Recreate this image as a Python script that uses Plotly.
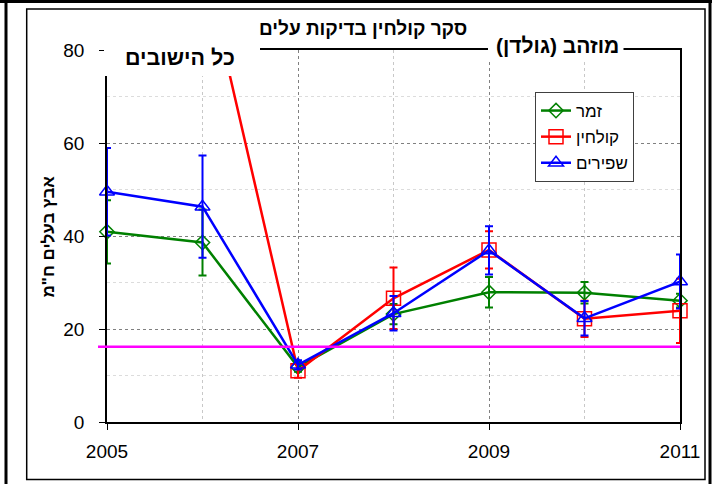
import plotly.graph_objects as go

# ---------------- data ----------------
years = [2005, 2006, 2007, 2008, 2009, 2010, 2011]

series_names = ["זמר", "קולחין", "שפירים"]

zamar = [40.9, 38.6, 11.8, 23.2, 27.9, 27.8, 26.1]
zamar_err = [6.8, 7.1, 1.0, 2.2, 3.3, 2.3, 1.5]

kolhin = [None, 100.0, 11.0, 26.6, 37.0, 22.2, 23.9]
kolhin_err = [None, None, 1.5, 6.6, 4.0, 3.9, 6.9]

shapirim = [49.5, 46.3, 12.3, 23.4, 36.9, 22.3, 30.2]
shapirim_err = [9.4, 11.0, 1.0, 3.7, 5.2, 3.7, 5.8]

threshold = 16.2

x_ticks = [2005, 2007, 2009, 2011]
y_ticks = [0, 20, 40, 60, 80]

title_main = "סקר קולחין בדיקות עלים"
title_left = "כל הישובים"
title_right = "מוזהב (גולדן)"
y_title = 'אבץ בעלים ח"מ'

# ---------------- layout geometry ----------------
W, H = 712, 484
L, R, T, B = 107, 32, 50, 62
PW, PH = W - L - R, H - T - B


def px(xpix):
    return (xpix - L) / PW


def py(ypix):
    return (H - B - ypix) / PH


FONT = "Liberation Sans, Arial, DejaVu Sans, sans-serif"

colors = ["#008000", "#FF0000", "#0000FF"]
symbols = ["diamond-open", "square-open", "triangle-up-open"]
sizes = [11, 14, 13]
vals = [zamar, kolhin, shapirim]
errs = [zamar_err, kolhin_err, shapirim_err]

fig = go.Figure()
for name, c, s, sz, v, e in zip(series_names, colors, symbols, sizes, vals, errs):
    fig.add_trace(go.Scatter(
        x=years, y=v, name=name, mode="lines+markers",
        line=dict(color=c, width=2.5),
        marker=dict(symbol=s, size=sz, color=c, line=dict(color=c, width=1.5)),
        error_y=dict(type="data", array=e, visible=True, color=c,
                     thickness=2, width=4),
        cliponaxis=False,
        legendgroup=name,
    ))

shapes = []
# threshold line
shapes.append(dict(type="line", xref="paper", yref="y", x0=px(98), x1=1,
                   y0=threshold, y1=threshold,
                   line=dict(color="#FF00FF", width=2.5), layer="above"))
# white covers behind the corner titles
shapes.append(dict(type="rect", xref="paper", yref="paper",
                   x0=px(104), x1=px(260), y0=py(76), y1=py(30),
                   fillcolor="white", line=dict(width=0), layer="above"))
shapes.append(dict(type="rect", xref="paper", yref="paper",
                   x0=px(488), x1=px(623.5), y0=py(60), y1=py(30),
                   fillcolor="white", line=dict(width=0), layer="above"))
# inner frame
shapes.append(dict(type="rect", xref="paper", yref="paper",
                   x0=px(26.7), x1=px(705), y0=py(479.5), y1=py(9),
                   line=dict(color="black", width=1.5), fillcolor="rgba(0,0,0,0)",
                   layer="below"))
# outer thick border
for (x0, y0, x1, y1) in [(0, 1.5, 712, 1.5), (6, 0, 6, 484), (710, 0, 710, 484)]:
    shapes.append(dict(type="line", xref="paper", yref="paper",
                       x0=px(x0), x1=px(x1), y0=py(y0), y1=py(y1),
                       line=dict(color="black", width=3), layer="below"))

annotations = [
    dict(text=f"<b>{title_main}</b>", xref="paper", yref="paper",
         x=px(362.5), y=py(28), xanchor="center", yanchor="middle",
         showarrow=False, font=dict(family=FONT, size=19, color="black")),
    dict(text=f"<b>{title_left}</b>", xref="paper", yref="paper",
         x=px(180), y=py(58), xanchor="center", yanchor="middle",
         showarrow=False, font=dict(family=FONT, size=21.5, color="black")),
    dict(text=f"<b>{title_right}</b>", xref="paper", yref="paper",
         x=px(557), y=py(45), xanchor="center", yanchor="middle",
         showarrow=False, font=dict(family=FONT, size=21, color="black")),
    dict(text=f"<b>{y_title}</b>", xref="paper", yref="paper",
         x=px(48), y=py(236.5), xanchor="center", yanchor="middle",
         textangle=-90, showarrow=False,
         font=dict(family=FONT, size=17, color="black")),
]

fig.update_layout(
    width=W, height=H,
    margin=dict(l=L, r=R, t=T, b=B),
    paper_bgcolor="white", plot_bgcolor="white",
    font=dict(family=FONT, color="black"),
    shapes=shapes, annotations=annotations,
    showlegend=True,
    legend=dict(x=px(535), y=py(92), xanchor="left", yanchor="top",
                bgcolor="white", bordercolor="#404040", borderwidth=1,
                font=dict(family=FONT, size=17, color="black"),
                traceorder="grouped", tracegroupgap=1, itemwidth=30),
    xaxis=dict(range=[2005, 2011], tickmode="array", tickvals=x_ticks,
               ticktext=[str(t) for t in x_ticks],
               showline=True, linecolor="black", linewidth=1.5, mirror=True,
               ticks="outside", ticklen=6, tickcolor="black",
               ticklabelstandoff=5,
               tickfont=dict(family=FONT, size=19, color="black"),
               showgrid=True, gridcolor="#808080", griddash="dot", gridwidth=1,
               minor=dict(dtick=1, tick0=2005, showgrid=True, gridcolor="#c8c8c8",
                          griddash="dot", gridwidth=1),
               zeroline=False, fixedrange=True),
    yaxis=dict(range=[0, 80], tickmode="array", tickvals=y_ticks,
               showline=True, linecolor="black", linewidth=1.5, mirror=True,
               ticks="outside", ticklen=6, tickcolor="black",
               ticklabelstandoff=11,
               tickfont=dict(family=FONT, size=19, color="black"),
               showgrid=True, gridcolor="#808080", griddash="dot", gridwidth=1,
               minor=dict(dtick=10, tick0=0, showgrid=True, gridcolor="#dcdcdc",
                          gridwidth=1),
               zeroline=False, fixedrange=True),
)

fig.write_html("out.html", config={"displayModeBar": False},
               post_script="document.body.style.margin='0';document.body.style.padding='0';")
